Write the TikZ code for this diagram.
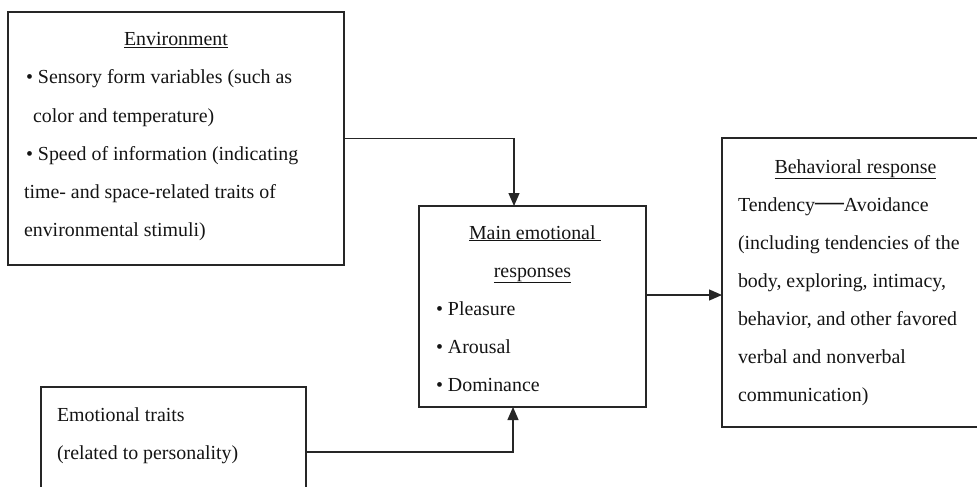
\documentclass[tikz,border=0pt]{standalone}
\usepackage{fontspec}
\setmainfont{Liberation Serif}
\usetikzlibrary{arrows.meta}
\begin{document}
\begin{tikzpicture}[x=1pt,y=-1pt,
  box/.style={draw=black!85, line width=1.4pt, rectangle, inner sep=0pt, outer sep=0pt, anchor=north west},
  txt/.style={inner sep=0pt, outer sep=0pt, anchor=base west, text=black!92, font=\fontsize{19.9}{38}\selectfont},
  ctxt/.style={txt, anchor=base},
  conn/.style={draw=black!85, line width=1.3pt},
  arr/.style={conn, -{Triangle[length=13pt,width=11pt]}}
]
\useasboundingbox (0,0) rectangle (977,487);
% boxes
\node[box, minimum width=336pt, minimum height=253pt] (env) at (8,12) {};
\node[box, minimum width=227pt, minimum height=201pt] (main) at (419,206) {};
\node[box, minimum width=268pt, minimum height=289pt] (beh) at (722,138) {};
\node[box, minimum width=265pt, minimum height=130pt] (emo) at (41,387) {};
% environment text
\node[ctxt] (e0) at (176,46) {\underline{Environment}};
\node[txt] (e1) at (26,84) {• Sensory form variables (such as};
\node[txt] (e2) at (33,122) {color and temperature)};
\node[txt] (e3) at (26,160) {• Speed of information (indicating};
\node[txt] (e4) at (24,198) {time- and space-related traits of};
\node[txt] (e5) at (24,236) {environmental stimuli)};
% main text
\node[txt] (m0) at (469,239) {\underline{Main emotional }};
\node[ctxt] (m1) at (532.5,277) {\underline{responses}};
\node[txt] (m2) at (436,315) {• Pleasure};
\node[txt] (m3) at (436,353) {• Arousal};
\node[txt] (m4) at (436,391) {• Dominance};
% behavior text
\node[ctxt] (b0) at (855.5,173) {\underline{Behavioral response}};
\node[txt] (b1) at (738,211) {Tendency\scalebox{1.45}[1.6]{—}Avoidance};
\node[txt] (b2) at (738,249) {(including tendencies of the};
\node[txt] (b3) at (738,287) {body, exploring, intimacy,};
\node[txt] (b4) at (738,325) {behavior, and other favored};
\node[txt] (b5) at (738,363) {verbal and nonverbal};
\node[txt] (b6) at (738,401) {communication)};
% emotional traits text
\node[txt] (t0) at (57,421) {Emotional traits};
\node[txt] (t1) at (57,459) {(related to personality)};
% connectors
\coordinate (min) at ([xshift=-18.5pt]main.north);
\coordinate (mbot) at ([xshift=-19.5pt]main.south);
\coordinate (mout) at ([yshift=11.5pt]main.east);
\draw[arr] (env.east) -| (min);
\draw[arr] (emo.east) -| (mbot);
\draw[arr] (mout) -- (mout -| beh.west);
\end{tikzpicture}
\end{document}
